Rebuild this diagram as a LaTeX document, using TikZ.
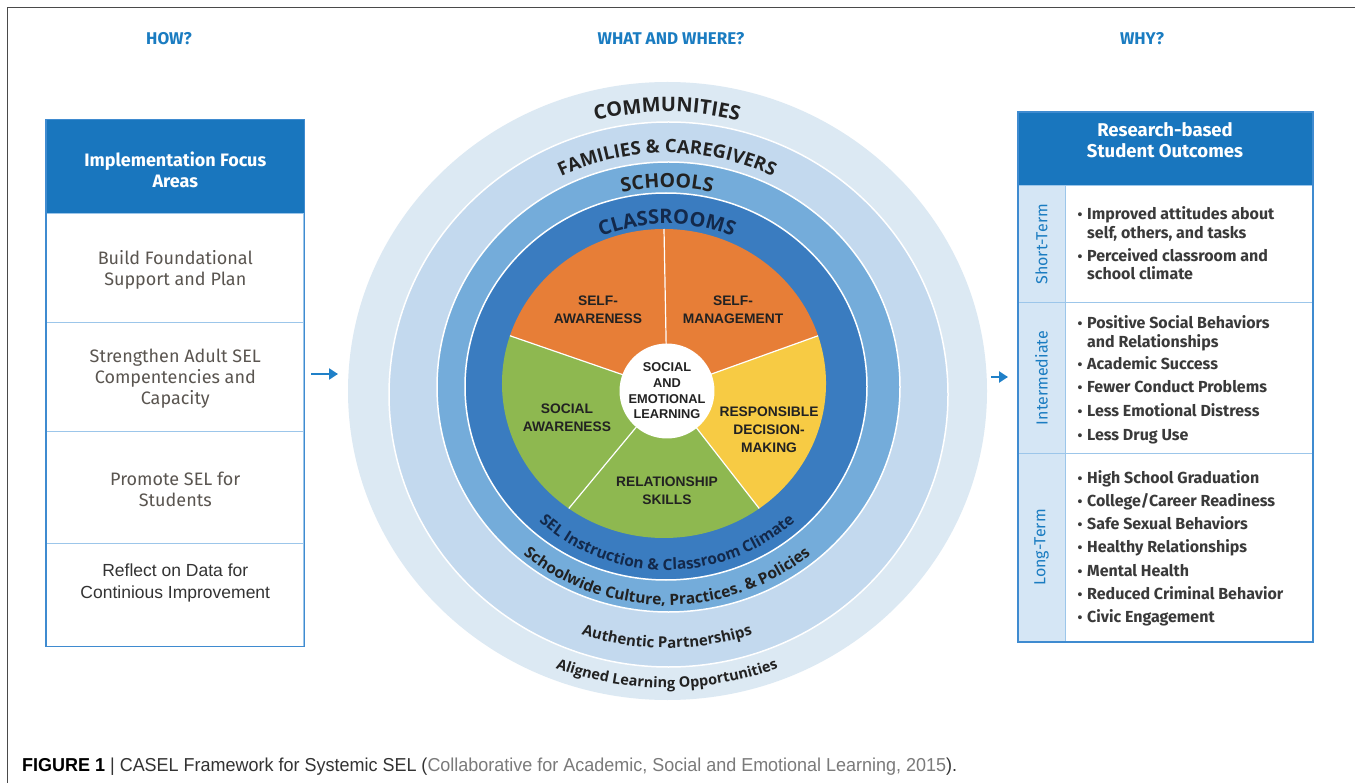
\documentclass[tikz,border=0pt]{standalone}
\usepackage{fontspec}
\usepackage{graphicx}
\usetikzlibrary{decorations.text,arrows.meta}
\setmainfont{Liberation Sans}
\newfontfamily\dinfont{Fira Sans}
\newfontfamily\ringfont{Open Sans}
\newfontfamily\arialfont{Liberation Sans}
\definecolor{hdrblue}{HTML}{1A7CC1}
\definecolor{boxblue}{HTML}{1976BE}
\definecolor{lineblue}{HTML}{3F8BD0}
\definecolor{divblue}{HTML}{9CC6EA}
\definecolor{sideblue}{HTML}{D5E6F5}
\definecolor{ringA}{HTML}{DCE9F3}
\definecolor{ringB}{HTML}{C3D9EE}
\definecolor{ringC}{HTML}{74ACDA}
\definecolor{ringD}{HTML}{3A7CC0}
\definecolor{pieorange}{HTML}{E77E37}
\definecolor{pieyellow}{HTML}{F7CB44}
\definecolor{piegreen}{HTML}{8EB850}
\definecolor{darktext}{HTML}{222222}
\definecolor{graytext}{HTML}{5A5550}
\definecolor{itemtext}{HTML}{3A3A3A}
\definecolor{navytext}{HTML}{13294B}
\definecolor{framegray}{HTML}{4A4A4A}
\definecolor{capgray}{HTML}{7A7A7A}
\definecolor{capdark}{HTML}{333333}
\definecolor{arrowblue}{HTML}{1F80C8}
\newcommand\rfmt[1]{\ringfont\bfseries\fontsize{#1}{#1}\selectfont}
\begin{document}
\begin{tikzpicture}[x=1pt,y=1pt,
  hdr/.style={font=\dinfont\bfseries\fontsize{17}{20}\selectfont,text=hdrblue},
  lcell/.style={draw=divblue,line width=1pt,minimum width=257.3pt,minimum height=#1,inner sep=0pt},
  hcell/.style={fill=boxblue,draw=boxblue,line width=1pt,minimum width=#1,inner sep=0pt},
  whitetxt/.style={font=\dinfont\bfseries\fontsize{18}{21}\selectfont,text=white,align=center},
  ltxt/.style={font=\dinfont\fontsize{18}{21}\selectfont,text=graytext,align=center},
  atxt/.style={font=\arialfont\fontsize{17.5}{22}\selectfont,text=capdark,align=center},
  scell/.style={fill=sideblue,draw=divblue,line width=1pt,minimum width=47pt,minimum height=#1,inner sep=0pt},
  ccell/.style={draw=divblue,line width=1pt,minimum width=247pt,minimum height=#1,inner sep=0pt},
  sidetxt/.style={font=\dinfont\fontsize{16}{18}\selectfont,text=hdrblue,rotate=90},
  itemR/.style={font=\dinfont\bfseries\fontsize{16}{18}\selectfont,text=itemtext,anchor=base west,inner sep=0pt},
  bulR/.style={font=\dinfont\bfseries\fontsize{14}{18}\selectfont,text=itemtext,anchor=base,inner sep=0pt},
  pietxt/.style={font=\arialfont\bfseries\fontsize{13.8}{18}\selectfont,text=darktext,align=center},
  ctrtxt/.style={font=\arialfont\bfseries\fontsize{12.8}{15.7}\selectfont,text=darktext,align=center,
    circle,fill=white,minimum size=92pt,inner sep=0pt},
  arr/.style={arrowblue,line width=2.2pt,-{Triangle[length=9pt,width=11pt]}},
  ringtext/.style={decorate,decoration={text along path,text align=center,text={#1}}}
]
\useasboundingbox (0,0) rectangle (1355,-783);
\fill[white] (0,0) rectangle (1355,-783);
% frame
\draw[framegray,line width=1.5pt] (7.5,-783) -- (7.5,-7.5) -- (1355,-7.5);

% column headings
\node[hdr] (how) at (169,-39) {HOW?};
\node[hdr] (what) at (671,-39) {WHAT AND WHERE?};
\node[hdr] (why) at (1142,-39) {WHY?};

% ---------------- left box ----------------
\node[hcell=257.3pt,minimum height=94pt] (lh) at (175.3,-167) {};
\node[lcell=109pt] (l1) at (175.3,-268.5) {};
\node[lcell=109pt] (l2) at (175.3,-377.5) {};
\node[lcell=111pt] (l3) at (175.3,-487.5) {};
\node[lcell=103pt] (l4) at (175.3,-594.5) {};
\draw[lineblue,line width=1.8pt] (lh.north west) rectangle (l4.south east);
\node[whitetxt] (lht) at ([yshift=-2.5]lh.center) {Implementation Focus\\Areas};
\node[ltxt] (l1t) at ([yshift=-1]l1.center) {Build Foundational\\Support and Plan};
\node[ltxt] (l2t) at ([yshift=-1.5]l2.center) {Strengthen Adult SEL\\Compentencies and\\Capacity};
\node[ltxt] (l3t) at ([yshift=-1.5]l3.center) {Promote SEL for\\Students};
\node[atxt] (l4t) at ([yshift=11.5]l4.center) {Reflect on Data for\\Continious Improvement};

% arrows
\coordinate (la1) at (311,-374);
\coordinate (la2) at (338,-374);
\draw[arr] (la1) -- (la2);
\coordinate (ra1) at (991,-377);
\coordinate (ra2) at (1008,-377);
\draw[arr] (ra1) -- (ra2);

% ---------------- rings ----------------
\fill[ringA] (667.5,-391) ellipse [x radius=319.5, y radius=309];
\filldraw[fill=ringB,draw=white,line width=1.5pt] (668.5,-394.5) ellipse [x radius=279.5, y radius=272.5];
\filldraw[fill=ringC,draw=white,line width=1.5pt] (668.5,-387) ellipse [x radius=231.5, y radius=225];
\filldraw[fill=ringD,draw=white,line width=1.5pt] (666,-386.5) ellipse [x radius=201, y radius=193.5];

% pie
\coordinate (pc) at (664,-383.5);
\coordinate (ap) at (667,-390);
\foreach \a/\b/\col in {90/162/pieorange, 18/90/pieorange, -54/18/pieyellow, -126/-54/piegreen, 162/234/piegreen}
  \fill[\col] (ap) -- ([shift={(\a:162 and 154.5)}]pc) arc[start angle=\a,end angle=\b,x radius=162,y radius=154.5] -- cycle;
\foreach \a in {90,162,234,306,18}
  \draw[white,line width=1.2pt] (ap) -- ([shift={(\a:162 and 154.5)}]pc);

\node[ctrtxt] (sel) at (667,-391) {SOCIAL\\AND\\EMOTIONAL\\LEARNING};
\node[pietxt] (sa) at (598,-310) {SELF-\\AWARENESS};
\node[pietxt] (sm) at (733,-310) {SELF-\\MANAGEMENT};
\node[pietxt] (soa) at (567,-418) {SOCIAL\\AWARENESS};
\node[pietxt] (rdm) at (769,-430) {RESPONSIBLE\\DECISION-\\MAKING};
\node[pietxt] (rs) at (667,-491) {RELATIONSHIP\\SKILLS};

% ring texts (top)
\coordinate (rc) at (667,-388);
\path[ringtext={|\rfmt{20}\color{darktext}|COMMUNITIES}]
  ([shift={(160:286 and 276)}]rc) arc[start angle=160,end angle=20,x radius=286,y radius=276];
\path[ringtext={|\rfmt{18.5}\color{darktext}|FAMILIES {\&} CAREGIVERS}]
  ([shift={(170:243 and 235)}]rc) arc[start angle=170,end angle=10,x radius=243,y radius=235];
\path[ringtext={|\rfmt{19.5}\color{darktext}|SCHOOLS}]
  ([shift={(160:207.5 and 200.5)}]rc) arc[start angle=160,end angle=20,x radius=207.5,y radius=200.5];
\path[ringtext={|\rfmt{20}\color{navytext}|CLASSROOMS}]
  ([shift={(160:170 and 164)}]rc) arc[start angle=160,end angle=20,x radius=170,y radius=164];
% ring texts (bottom)
\path[ringtext={|\rfmt{15.5}\color{navytext}|SEL Instruction {\&} Classroom Climate}]
  ([shift={(185:188 and 182)}]rc) arc[start angle=185,end angle=355,x radius=188,y radius=182];
\path[ringtext={|\rfmt{15.5}\color{darktext}|Schoolwide Culture, Practices. {\&} Policies}]
  ([shift={(185:224.5 and 217)}]rc) arc[start angle=185,end angle=355,x radius=224.5,y radius=217];
\path[ringtext={|\rfmt{15}\color{darktext}|Authentic Partnerships}]
  ([shift={(190:269 and 260)}]rc) arc[start angle=190,end angle=350,x radius=269,y radius=260];
\path[ringtext={|\rfmt{14.5}\color{darktext}|Aligned Learning Opportunities}]
  ([shift={(190:310 and 300)}]rc) arc[start angle=190,end angle=350,x radius=310,y radius=300];

% ---------------- right box ----------------
\node[hcell=294pt,minimum height=73pt] (rh) at (1165,-149.5) {};
\node[scell=116.5pt] (s1) at (1041.5,-244.25) {};
\node[scell=151pt] (s2) at (1041.5,-378) {};
\node[scell=187.4pt] (s3) at (1041.5,-547.3) {};
\node[ccell=116.5pt] (c1) at (1188.5,-244.25) {};
\node[ccell=151pt] (c2) at (1188.5,-378) {};
\node[ccell=187.4pt] (c3) at (1188.5,-547.3) {};
\draw[lineblue,line width=2pt] (rh.north west) rectangle (c3.south east);
\node[whitetxt,font=\dinfont\bfseries\fontsize{18.5}{21}\selectfont] (rht) at ([yshift=9]rh.center) {Research-based\\Student Outcomes};
\node[sidetxt] (s1t) at (s1.center) {Short-Term};
\node[sidetxt] (s2t) at (s2.center) {Intermediate};
\node[sidetxt] (s3t) at (s3.center) {Long-Term};

\foreach \yy/\tx [count=\i] in {
  214/Improved attitudes about, 233/{self, others, and tasks},
  256/Perceived classroom and, 274/school climate,
  323/Positive Social Behaviors, 342/and Relationships,
  364/Academic Success, 387.5/Fewer Conduct Problems,
  411/Less Emotional Distress, 435/Less Drug Use,
  477.5/High School Graduation, 501/{College/Career Readiness},
  524/Safe Sexual Behaviors, 546.5/Healthy Relationships,
  571/Mental Health, 594/Reduced Criminal Behavior,
  617/Civic Engagement}
  \node[itemR] (it\i) at (1087,-\yy-5.5) {\tx};
\foreach \yy [count=\i] in {214,256,323,364,387.5,411,435,477.5,501,524,546.5,571,594,617}
  \node[bulR] (bu\i) at (1080,-\yy-5.5) {•};

% caption
\node[anchor=base west,inner sep=0pt] (cap) at (22,-771)
  {\resizebox{935pt}{\height}{\arialfont\fontsize{18.7}{20}\selectfont\textbf{FIGURE 1} \textcolor{capdark}{| CASEL Framework for Systemic SEL (}\textcolor{capgray}{Collaborative for Academic, Social and Emotional Learning, 2015}\textcolor{capdark}{).}}};
\end{tikzpicture}
\end{document}
